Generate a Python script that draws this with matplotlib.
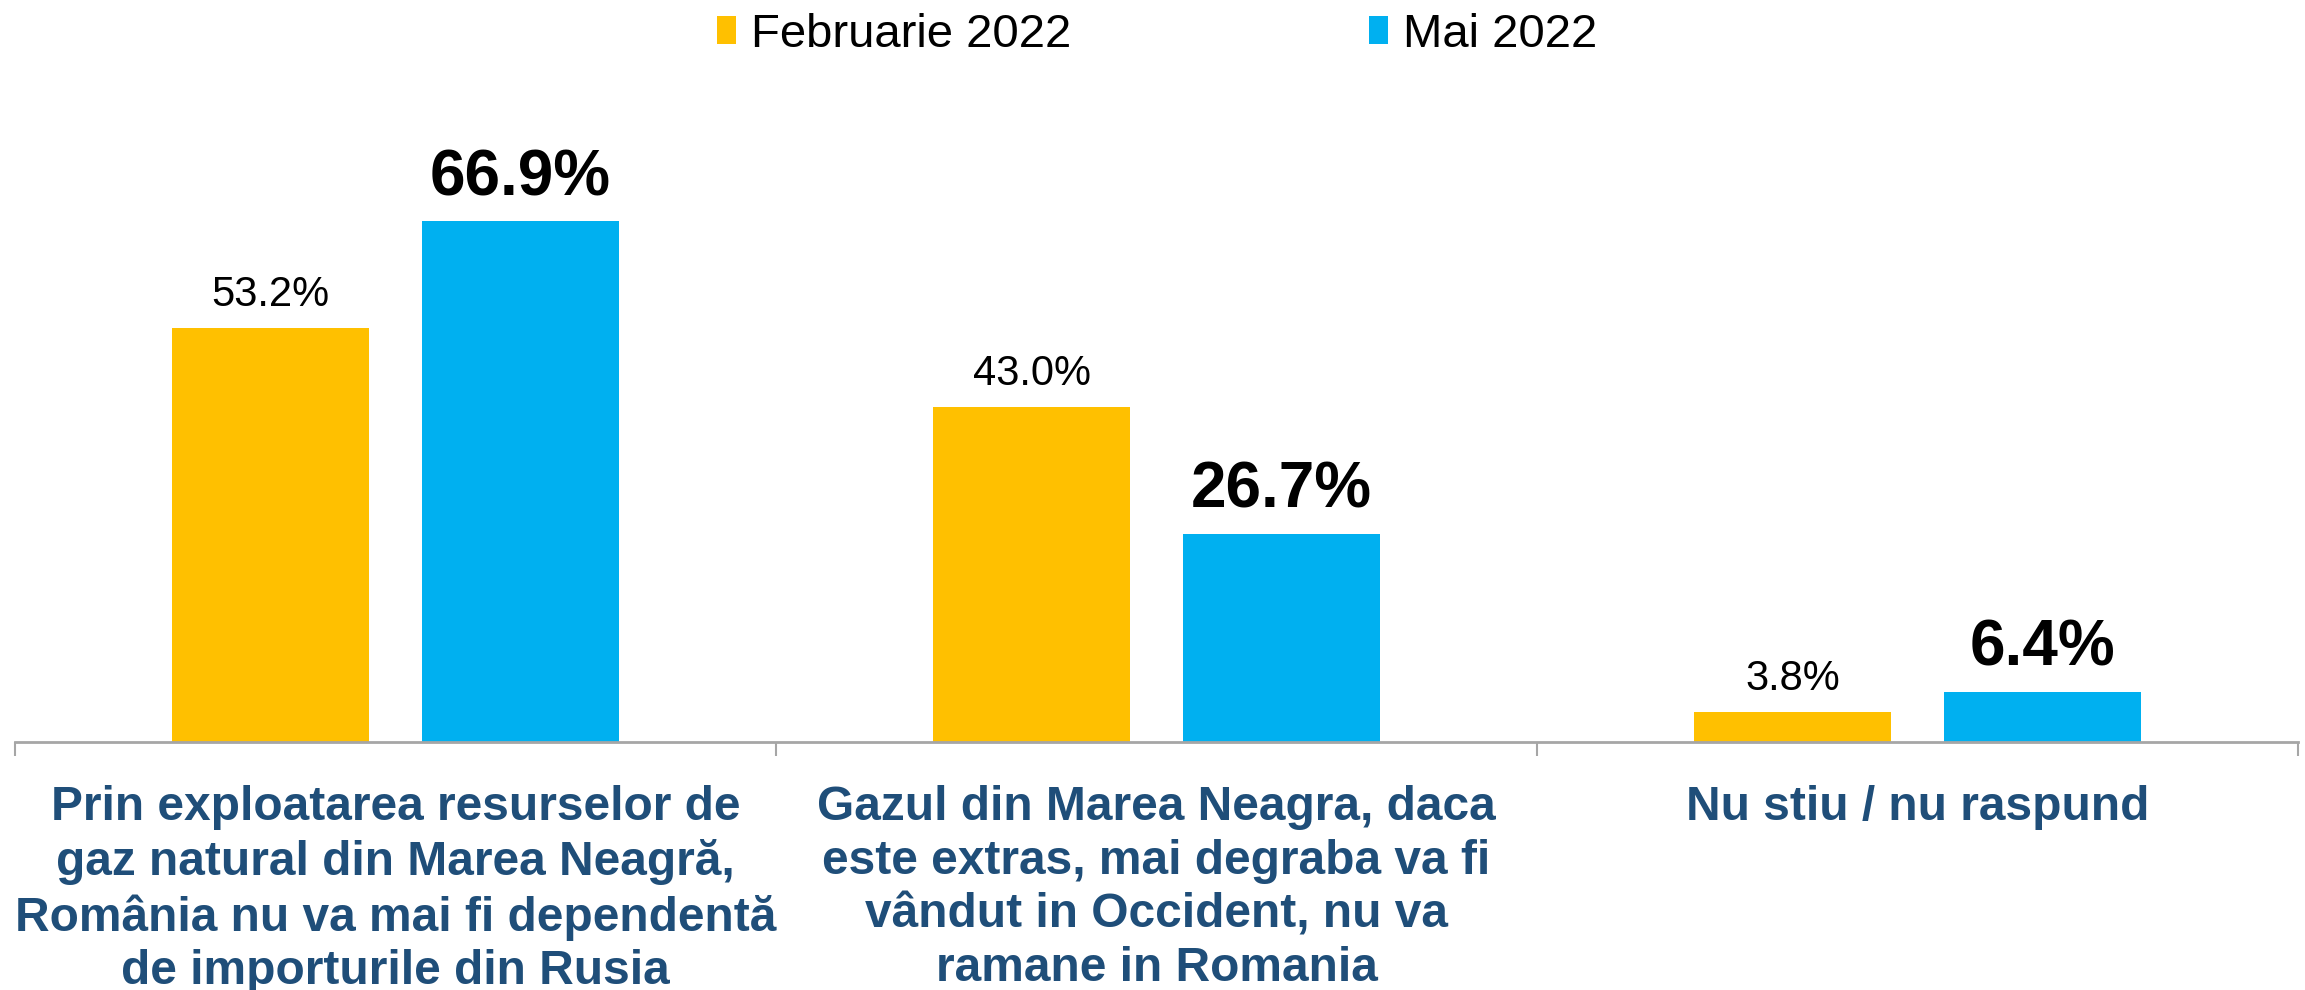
import matplotlib
matplotlib.use("Agg")
import matplotlib.pyplot as plt
import numpy as np
from matplotlib.patches import Patch

categories = [
    "Prin exploatarea resurselor de\ngaz natural din Marea Neagră,\nRomânia nu va mai fi dependentă\nde importurile din Rusia",
    "Gazul din Marea Neagra, daca\neste extras, mai degraba va fi\nvândut in Occident, nu va\nramane in Romania",
    "Nu stiu / nu raspund",
]
series_names = ["Februarie 2022", "Mai 2022"]
feb_2022 = [53.2, 43.0, 3.8]
mai_2022 = [66.9, 26.7, 6.4]

YELLOW = "#FFC000"
BLUE = "#00B0F0"
LABEL_BLUE = "#1F4E79"
GRAY = "#A6A6A6"

plt.rcParams['font.family'] = ['Liberation Sans', 'DejaVu Sans']

fig = plt.figure(figsize=(23.05, 9.9), dpi=100)
ax = fig.add_axes([0.0065, 0.2505, 0.9905, 0.6485])

x = np.arange(len(categories))
w = 0.259
off = 0.164
b1 = ax.bar(x - off, feb_2022, width=w, color=YELLOW, label=series_names[0])
b2 = ax.bar(x + off, mai_2022, width=w, color=BLUE, label=series_names[1])

for rect, v in zip(b1, feb_2022):
    ax.annotate(f"{v:.1f}%", (rect.get_x() + rect.get_width() / 2, v),
                xytext=(0, 16), textcoords="offset points",
                ha="center", va="baseline", fontsize=30, color="black")
for rect, v in zip(b2, mai_2022):
    ax.annotate(f"{v:.1f}%", (rect.get_x() + rect.get_width() / 2, v),
                xytext=(0, 19), textcoords="offset points",
                ha="center", va="baseline", fontsize=46, fontweight="bold",
                color="black")

ax.set_xlim(-0.5, 2.5)
ax.set_ylim(0, 82.5)

for s in ["top", "right", "left"]:
    ax.spines[s].set_visible(False)
ax.spines["bottom"].set_color(GRAY)
ax.spines["bottom"].set_linewidth(2)
ax.set_yticks([])

ax.set_xticks(x)
ax.set_xticklabels(categories, fontsize=34.5, fontweight="bold",
                   color=LABEL_BLUE, linespacing=1.25, va="top")
ax.tick_params(axis="x", which="major", length=0, pad=31)
ax.set_xticks(np.arange(-0.5, 3.0, 1.0), minor=True)
ax.tick_params(axis="x", which="minor", length=10, width=1.5, color=GRAY)

handles = [Patch(facecolor=YELLOW, edgecolor="none"),
           Patch(facecolor=BLUE, edgecolor="none")]
fig.legend(handles, series_names, loc="center", bbox_to_anchor=(0.502, 0.9645),
           ncol=2, frameon=False, fontsize=34, handlelength=0.41,
           handleheight=0.53, handletextpad=0.31, columnspacing=6.3,
           borderpad=0, borderaxespad=0)

fig.savefig("out.png", dpi=100)
